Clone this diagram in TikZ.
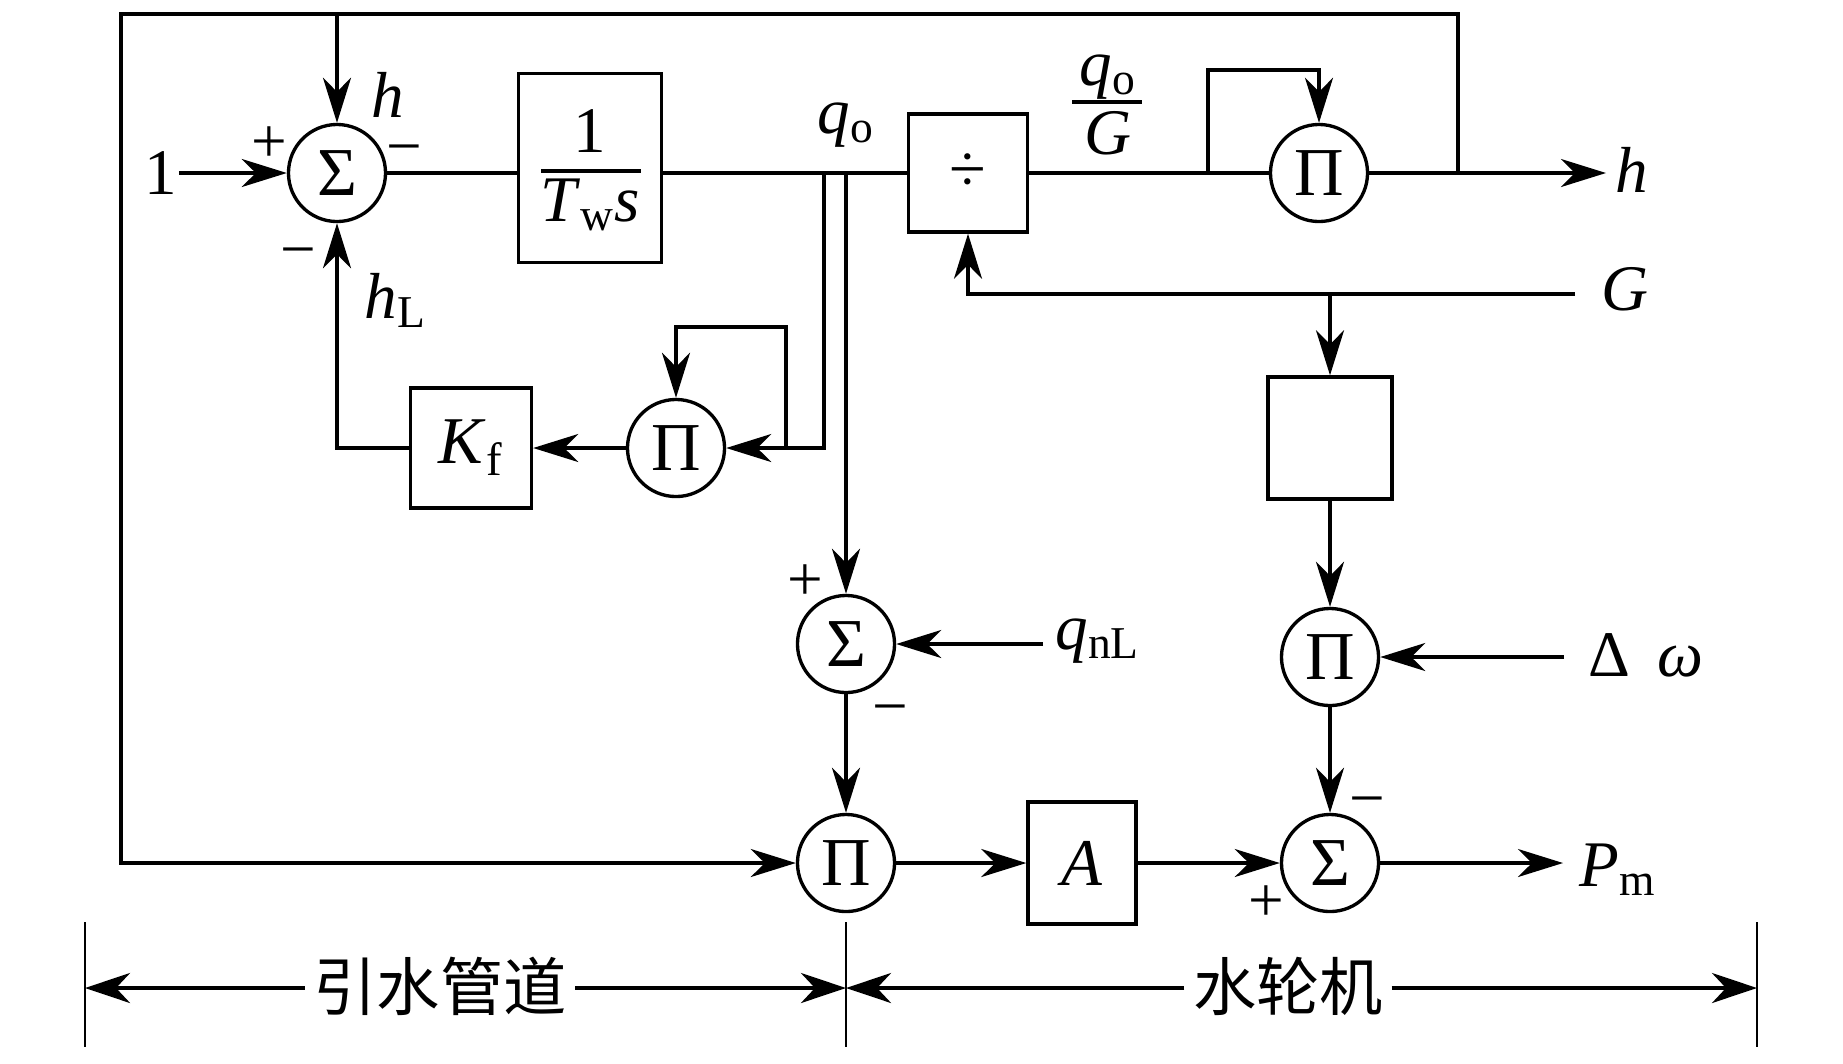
\documentclass[tikz,border=0pt]{standalone}
\usepackage{fontspec}
\setmainfont{Liberation Serif}
\newfontfamily\cjk{Noto Sans CJK SC}
\usetikzlibrary{arrows.meta}
\begin{document}
\begin{tikzpicture}[x=0.01cm,y=-0.01cm,
  line width=0.95pt,
  arr/.style={-{Stealth[length=4.5mm,width=2.8mm,inset=1.4mm]}},
  dimarr/.style={line width=1.1pt,-{Stealth[length=4.5mm,width=3mm,inset=1.4mm]}},
  opcirc/.style={circle,draw,minimum size=0.97cm,inner sep=0pt,font=\fontsize{19.5pt}{21pt}\selectfont},
  blk/.style={draw,inner sep=0pt,font=\fontsize{19pt}{21pt}\selectfont},
  lab/.style={inner sep=0pt,font=\fontsize{18.5pt}{20pt}\selectfont},
  sgn/.style={inner sep=0pt,font=\fontsize{18pt}{20pt}\selectfont},
  cjklab/.style={inner sep=2pt,font=\fontsize{18pt}{20pt}\selectfont\cjk}]
\useasboundingbox (0,0) rectangle (1843,1063);

% operator nodes and blocks
\node[opcirc] (s1) at (337,173) {Σ};
\node[blk,minimum width=1.43cm,minimum height=1.89cm] (b1) at (590,168) {};
\node[blk,minimum width=1.19cm,minimum height=1.18cm] (dv) at (968,173) {÷};
\node[opcirc] (p1) at (1319,173) {Π};
\node[opcirc] (p2) at (676,448) {Π};
\node[blk,minimum width=1.21cm,minimum height=1.2cm] (kf) at (471,448) {\textit{K}\textsubscript{f}};
\node[opcirc] (s2) at (846,644) {Σ};
\node[opcirc] (p3) at (846,863) {Π};
\node[blk,minimum width=1.08cm,minimum height=1.22cm] (ab) at (1082,863) {\textit{A}};
\node[opcirc] (s3) at (1330,863) {Σ};
\node[blk,minimum width=1.24cm,minimum height=1.22cm] (b2) at (1330,438) {};
\node[opcirc] (p4) at (1330,657) {Π};

% block 1 contents
\node[lab] (num1) at (590,131) {1};
\coordinate (fb1l) at (541,171);
\coordinate (fb1r) at (641,171);
\draw[line width=1.3pt] (fb1l) -- (fb1r);
\node[lab] (den1) at (590,205) {\textit{T}\textsubscript{w}\textit{s}};

% labels
\node[lab] (in1) at (161,173) {1};
\node[lab] (hlab) at (388,95) {\textit{h}};
\node[sgn] at (269,145) {+};
\node[sgn] at (404,156) {−};
\node[sgn] at (298,259) {−};
\node[lab] (hl) at (396,300) {\textit{h}\textsubscript{L}};
\node[lab] (q0) at (846,125) {\textit{q}\textsubscript{o}};
\node[lab] (qg1) at (1108,77) {\textit{q}\textsubscript{o}};
\coordinate (fb2l) at (1072,102);
\coordinate (fb2r) at (1142,102);
\draw[line width=1.3pt] (fb2l) -- (fb2r);
\node[lab] (qg2) at (1108,133) {\textit{G}};
\node[lab] (hout) at (1632,170) {\textit{h}};
\node[lab] (gin) at (1625,289) {\textit{G}};
\node[lab] (dw) at (1646,655) {Δ\hspace{0.27cm}\textit{ω}};
\node[lab] (pm) at (1618,870) {\textit{P}\textsubscript{m}};
\node[lab] (qnl) at (1098,641) {\textit{q}\textsubscript{nL}};
\node[sgn] at (805,583) {+};
\node[sgn] at (890,716) {−};
\node[sgn] at (1367,808) {−};
\node[sgn] at (1266,904) {+};

% coordinates for free ends / branch points
\coordinate (tr) at (1458,173);
\coordinate (htap) at (337,14);
\coordinate (hend) at (1606,173);
\coordinate (lp1) at (1208,173);
\coordinate (gst) at (1575,294);
\coordinate (gbr) at (1330,294);
\coordinate (dws) at (1564,657);
\coordinate (pme) at (1563,863);
\coordinate (qb) at (846,173);
\coordinate (qa) at (824,173);
\coordinate (lp2) at (786,448);
\coordinate (qns) at (1043,644);

% connectors
\draw[arr] (in1.east) -- (s1.west);
\draw (s1.east) -- (s1.east -| b1.west);
\draw (s1.east -| b1.east) -- (dv.west);
\draw (dv.east) -- (p1.west);
\draw[arr] (p1.east) -- (hend);
\draw[arr] (tr) -- (1458,14) -- (121,14) -- (121,863) -- (p3.west);
\draw[arr] (htap) -- (s1.north);
\draw[arr] (lp1) -- (1208,70) -- (1319,70) -- (p1.north);
\draw[arr] (gst) -- (968,294) -- (dv.south);
\draw[arr] (gbr) -- (b2.north);
\draw[arr] (b2.south) -- (p4.north);
\draw[arr] (dws) -- (p4.east);
\draw[arr] (p4.south) -- (s3.north);
\draw[arr] (p3.east) -- (ab.west);
\draw[arr] (ab.east) -- (s3.west);
\draw[arr] (s3.east) -- (pme);
\draw[arr] (qb) -- (s2.north);
\draw[arr] (s2.south) -- (p3.north);
\draw[arr] (qns) -- (s2.east);
\draw[arr] (qa) -- (824,448) -- (p2.east);
\draw[arr] (lp2) -- (786,327) -- (676,327) -- (p2.north);
\draw[arr] (p2.west) -- (kf.east);
\draw[arr] (kf.west) -| (s1.south);

% bottom dimension
\coordinate (v1t) at (85,922);   \coordinate (v1b) at (85,1047);
\coordinate (v2t) at (846,922);  \coordinate (v2b) at (846,1047);
\coordinate (v3t) at (1757,922); \coordinate (v3b) at (1757,1047);
\draw[line width=0.45pt] (v1t) -- (v1b);
\draw[line width=0.45pt] (v2t) -- (v2b);
\draw[line width=0.45pt] (v3t) -- (v3b);
\node[cjklab] (t1) at (440,986) {引水管道};
\node[cjklab] (t2) at (1288,986) {水轮机};
\coordinate (d1) at (85,988);
\coordinate (d2) at (846,988);
\coordinate (d3) at (1757,988);
\draw[dimarr] (t1.west |- d1) -- (d1);
\draw[dimarr] (t1.east |- d1) -- (d2);
\draw[dimarr] (t2.west |- d2) -- (d2);
\draw[dimarr] (t2.east |- d3) -- (d3);
\end{tikzpicture}
\end{document}
